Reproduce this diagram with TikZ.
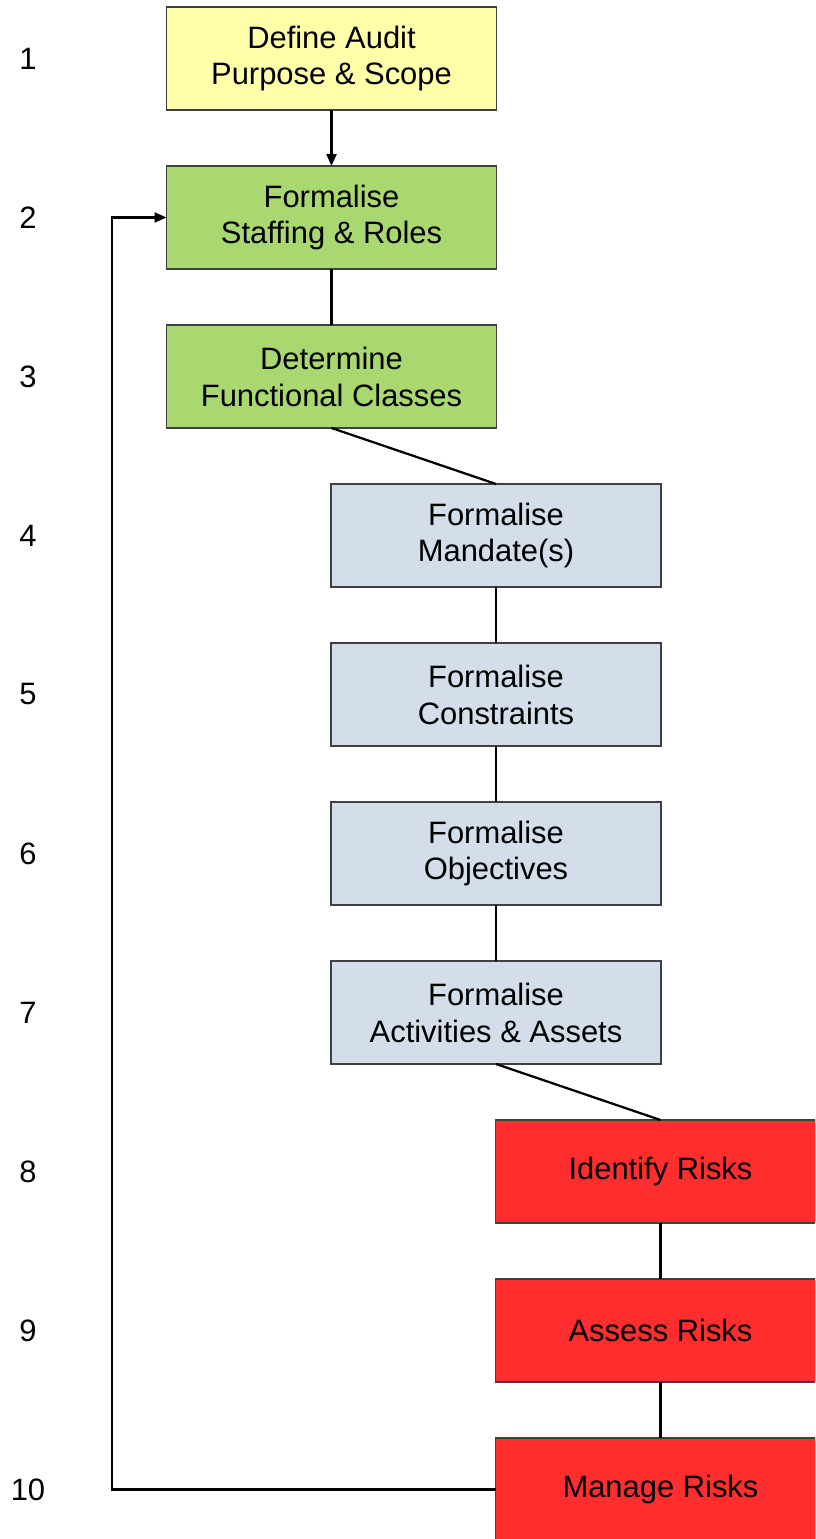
\documentclass[tikz,border=0pt]{standalone}
\usepackage{fontspec}
\setmainfont{Liberation Sans}
\usetikzlibrary{positioning,arrows.meta}
\definecolor{scopeyellow}{RGB}{255,255,170}
\definecolor{prepgreen}{RGB}{169,216,112}
\definecolor{planblue}{RGB}{211,222,234}
\definecolor{riskred}{RGB}{255,46,46}
\definecolor{edgegray}{RGB}{64,64,64}
\tikzset{
stage/.style={draw=edgegray, line width=1.2pt, minimum width=8.25cm, minimum height=2.575cm,
  outer sep=0pt, align=center, inner sep=0pt, font=\fontsize{22}{26.3}\selectfont},
scopestage/.style={stage, fill=scopeyellow},
prepstage/.style={stage, fill=prepgreen},
planstage/.style={stage, fill=planblue},
riskstage/.style={stage, fill=riskred},
num/.style={font=\fontsize{22}{26.3}\selectfont},
link/.style={line width=1.6pt, black},
node distance=1.4cm,
}

\begin{document}
\begin{tikzpicture}
    \useasboundingbox (0,0) rectangle (20.375,-38.475);
    \clip (0,0) rectangle (20.375,-38.475);

    \node[scopestage] (a1) at (8.2875,-1.4625) {Define Audit\\Purpose \& Scope};
    \node[prepstage, below=of a1] (a2) {Formalise\\Staffing \& Roles};
    \node[prepstage, below=of a2] (a3) {Determine\\Functional Classes};
    \node[planstage, below=of a3, xshift=4.1125cm] (a4) {Formalise\\Mandate(s)};
    \node[planstage, below=of a4] (a5) {Formalise\\Constraints};
    \node[planstage, below=of a5] (a6) {Formalise\\Objectives};
    \node[planstage, below=of a6] (a7) {Formalise\\Activities \& Assets};
    \node[riskstage, below=of a7, xshift=4.1125cm] (a8) {Identify Risks};
    \node[riskstage, below=of a8] (a9) {Assess Risks};
    \node[riskstage, below=of a9] (a10) {Manage Risks};

    % step numbers
    \foreach \i in {1,...,10}
        \node[num] (n\i) at (0.7,{-1.4625-3.975*(\i-1)}) {\i};

    \coordinate (fb) at (2.8,0);

    \draw[link, -{Triangle[length=0.3cm,width=0.25cm]}] (a1) -- (a2);
    \draw[link] (a2) -- (a3);
    \draw[link] (a3.south) -- (a4.north);
    \draw[link] (a4) -- (a5);
    \draw[link] (a5) -- (a6);
    \draw[link] (a6) -- (a7);
    \draw[link] (a7.south) -- (a8.north);
    \draw[link] (a8) -- (a9);
    \draw[link] (a9) -- (a10);
    \draw[link, -{Triangle[length=0.3cm,width=0.25cm]}] (a10.west) -- (a10.west -| fb) |- (a2.west);

\end{tikzpicture}
\end{document}
